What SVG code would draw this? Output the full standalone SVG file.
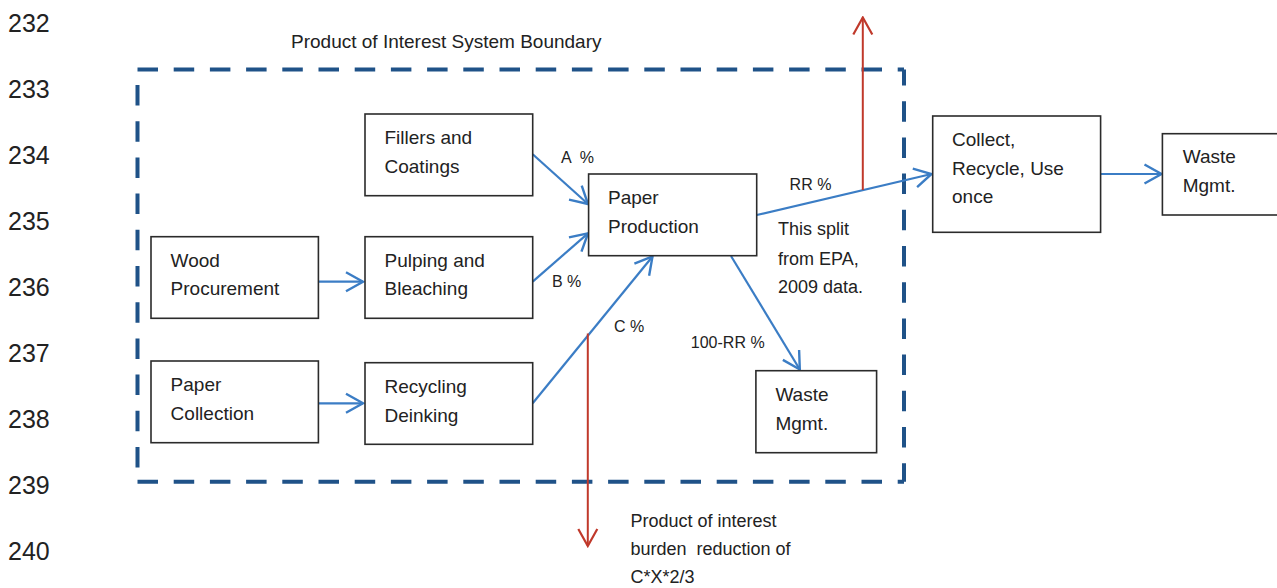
<svg xmlns="http://www.w3.org/2000/svg" width="1277" height="588" viewBox="0 0 1277 588">
<style>
text{font-family:"Liberation Sans",Arial,sans-serif;fill:#222;white-space:pre}
.ln{font-size:25px}
.bt{font-size:19px}
.lb{font-size:16px}
.nt{font-size:18px}
.box{fill:#fff;stroke:#2b2b2b;stroke-width:1.6}
.bnd{fill:none;stroke:#1f5288;stroke-width:4;stroke-dasharray:20.5 15.7}
.bl{fill:none;stroke:#3b7dc5;stroke-width:2.2;marker-end:url(#ab)}
.rd{fill:none;stroke:#c0392b;stroke-width:2;marker-end:url(#ar)}
</style>
<defs>
<marker id="ab" markerUnits="userSpaceOnUse" viewBox="-20 -12 22 24" refX="0" refY="0" markerWidth="22" markerHeight="24" orient="auto">
<path d="M-17,-9.5 L0,0 L-17,9.5" fill="none" stroke="#3b7dc5" stroke-width="2.4"/>
</marker>
<marker id="ar" markerUnits="userSpaceOnUse" viewBox="-20 -12 22 24" refX="0" refY="0" markerWidth="22" markerHeight="24" orient="auto">
<path d="M-17,-9.5 L0,0 L-17,9.5" fill="none" stroke="#c0392b" stroke-width="2.2"/>
</marker>
</defs>
<rect width="1277" height="588" fill="#fff"/>
<g id="line-numbers" class="ln">
<text x="8" y="32">232</text>
<text x="8" y="98">233</text>
<text x="8" y="164">234</text>
<text x="8" y="230">235</text>
<text x="8" y="296">236</text>
<text x="8" y="362">237</text>
<text x="8" y="428">238</text>
<text x="8" y="494">239</text>
<text x="8" y="560">240</text>
</g>
<g id="boundary">
<line class="bnd" x1="137.5" y1="69.5" x2="904" y2="69.5"/>
<line class="bnd" x1="904" y1="69.5" x2="904" y2="481.7" stroke-dashoffset="4.5"/>
<line class="bnd" x1="137.5" y1="481.7" x2="904" y2="481.7"/>
<line class="bnd" x1="137.5" y1="85" x2="137.5" y2="468"/>
<text x="291" y="48" class="bt" font-size="18">Product of Interest System Boundary</text>
</g>
<g id="connectors">
<line class="bl" x1="318" y1="281.7" x2="363" y2="281.7"/>
<line class="bl" x1="318" y1="403.3" x2="363" y2="403.3"/>
<line class="bl" x1="532.7" y1="154.3" x2="588" y2="204"/>
<line class="bl" x1="532.7" y1="281.7" x2="588" y2="233.3"/>
<line class="bl" x1="532.7" y1="403.3" x2="652.5" y2="256.5"/>
<line class="bl" x1="756.7" y1="215" x2="931.5" y2="174"/>
<line class="bl" x1="731" y1="256" x2="799.8" y2="369.5"/>
<line class="bl" x1="1100.6" y1="174" x2="1161.5" y2="174"/>
<line class="rd" x1="862.8" y1="190" x2="862.8" y2="17.5"/>
<line class="rd" x1="587.8" y1="333.5" x2="587.8" y2="546"/>
<text class="lb" x="561" y="162.7">A  %</text>
<text class="lb" x="552" y="286.7">B %</text>
<text class="lb" x="614" y="332">C %</text>
<text class="lb" x="789.6" y="190">RR %</text>
<text class="lb" x="690.8" y="348.3" font-size="17">100-RR %</text>
<text class="nt" x="778" y="235">This split</text>
<text class="nt" x="778" y="265">from EPA,</text>
<text class="nt" x="778" y="293.3">2009 data.</text>
<text class="nt" x="630.5" y="526.7" font-size="18.5">Product of interest</text>
<text class="nt" x="630.5" y="555" font-size="18.5">burden  reduction of</text>
<text class="nt" x="630.5" y="583.3" font-size="18.5">C*X*2/3</text>
</g>
<g id="fillers">
<rect class="box" x="365" y="114" width="167.7" height="81.7"/>
<text class="bt" x="384.5" y="144">Fillers and</text>
<text class="bt" x="384.5" y="173">Coatings</text>
</g>
<g id="wood">
<rect class="box" x="151" y="236.7" width="167.4" height="81.6"/>
<text class="bt" x="170.6" y="266.7">Wood</text>
<text class="bt" x="170.6" y="295">Procurement</text>
</g>
<g id="pulping">
<rect class="box" x="365" y="236.7" width="167.7" height="81.6"/>
<text class="bt" x="384.5" y="266.7">Pulping and</text>
<text class="bt" x="384.5" y="295">Bleaching</text>
</g>
<g id="paper-collection">
<rect class="box" x="151" y="361" width="167.4" height="81.7"/>
<text class="bt" x="170.6" y="390.7">Paper</text>
<text class="bt" x="170.6" y="420">Collection</text>
</g>
<g id="recycling">
<rect class="box" x="365" y="362.7" width="167.7" height="81.6"/>
<text class="bt" x="384.5" y="393.3">Recycling</text>
<text class="bt" x="384.5" y="421.7">Deinking</text>
</g>
<g id="paper-production">
<rect class="box" x="588.6" y="174" width="168.1" height="81.7"/>
<text class="bt" x="608" y="204">Paper</text>
<text class="bt" x="608" y="232.7">Production</text>
</g>
<g id="collect">
<rect class="box" x="932.7" y="116" width="167.9" height="116.3"/>
<text class="bt" x="952" y="145.7">Collect,</text>
<text class="bt" x="952" y="175">Recycle, Use</text>
<text class="bt" x="952" y="203.3">once</text>
</g>
<g id="waste-outer">
<rect class="box" x="1162.4" y="133.7" width="120" height="81.3"/>
<text class="bt" x="1182.7" y="162.7">Waste</text>
<text class="bt" x="1182.7" y="192">Mgmt.</text>
</g>
<g id="waste-inner">
<rect class="box" x="755.9" y="370.7" width="120.7" height="82"/>
<text class="bt" x="775.4" y="401">Waste</text>
<text class="bt" x="775.4" y="430">Mgmt.</text>
</g>
</svg>
